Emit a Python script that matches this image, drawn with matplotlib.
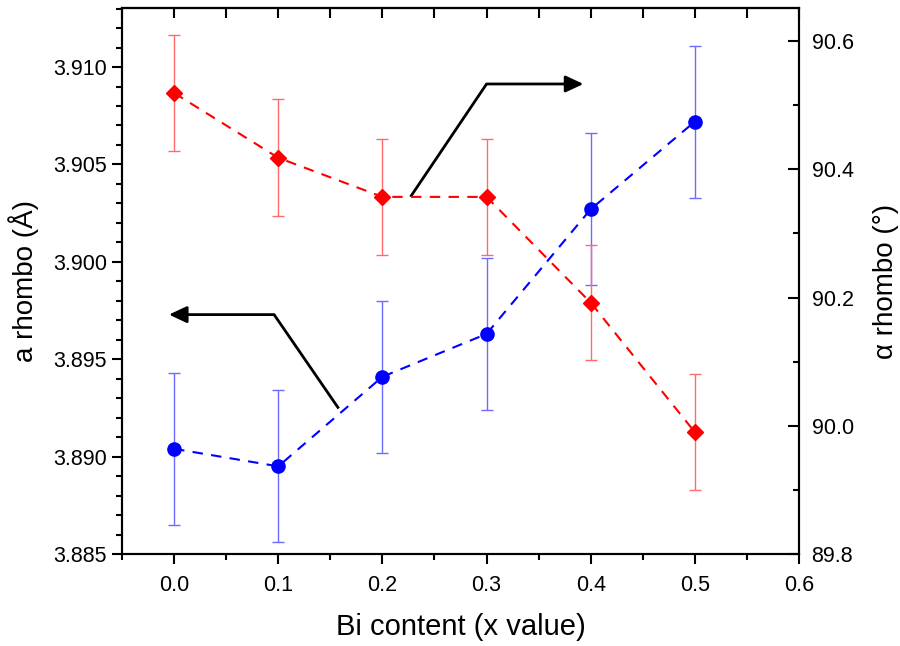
import matplotlib
matplotlib.use("Agg")
import matplotlib.pyplot as plt
from matplotlib.ticker import MultipleLocator, FormatStrFormatter

plt.rcParams['font.family'] = ['Liberation Sans', 'DejaVu Sans']

# data
bi_x = [0.0, 0.1, 0.2, 0.3, 0.4, 0.5]
a_rhombo = [3.8904, 3.8895, 3.8941, 3.8963, 3.9027, 3.9072]
a_err = [0.0039, 0.0039, 0.0039, 0.0039, 0.0039, 0.0039]
alpha_rhombo = [90.519, 90.418, 90.357, 90.357, 90.192, 89.990]
alpha_err = [0.091, 0.091, 0.090, 0.090, 0.090, 0.090]

# arrow paths (x, a rhombo units): start, corner, tip
arrow_right = [(0.227, 3.90334), (0.300, 3.90913), (0.393, 3.90913)]
arrow_left = [(0.158, 3.89247), (0.096, 3.89729), (-0.005, 3.89729)]

fig = plt.figure(figsize=(9, 6.46), dpi=100)
ax = fig.add_axes([0.1356, 0.1424, 0.7522, 0.8452])
ax2 = ax.twinx()

# blue: a rhombo on left axis
ax.errorbar(bi_x, a_rhombo, yerr=a_err, fmt='none', ecolor='#6b6bff',
            elinewidth=1, capsize=4.5, capthick=1, zorder=2)
ax.plot(bi_x, a_rhombo, '--', color='#0000ff', lw=1.5, dashes=(5, 4),
        marker='o', ms=9.5, mfc='#0000ff', mec='#0000ff', zorder=3)

# red: alpha rhombo on right axis
ax2.errorbar(bi_x, alpha_rhombo, yerr=alpha_err, fmt='none', ecolor='#ff6b6b',
             elinewidth=1, capsize=4.5, capthick=1, zorder=2)
ax2.plot(bi_x, alpha_rhombo, '--', color='#ff0000', lw=1.5, dashes=(5, 4),
         marker='D', ms=8, mfc='#ff0000', mec='#ff0000', zorder=3)

ax.set_xlim(-0.05, 0.6)
ax.set_ylim(3.885, 3.91303)
ax2.set_ylim(89.8, 90.6516)

ax.xaxis.set_major_locator(MultipleLocator(0.1))
ax.xaxis.set_minor_locator(MultipleLocator(0.05))
ax.xaxis.set_major_formatter(FormatStrFormatter('%.1f'))
ax.yaxis.set_major_locator(MultipleLocator(0.005))
ax.yaxis.set_minor_locator(MultipleLocator(0.001))
ax.yaxis.set_major_formatter(FormatStrFormatter('%.3f'))
ax2.yaxis.set_major_locator(MultipleLocator(0.2))
ax2.yaxis.set_minor_locator(MultipleLocator(0.1))
ax2.yaxis.set_major_formatter(FormatStrFormatter('%.1f'))

ax.tick_params(axis='x', which='major', direction='out', length=7, width=1.5,
               labelsize=15.5, pad=8)
ax.tick_params(axis='x', which='minor', direction='out', length=4, width=1.5)
ax.tick_params(axis='y', which='major', direction='out', length=7, width=1.5,
               labelsize=15.5, pad=4)
ax.tick_params(axis='y', which='minor', direction='out', length=4, width=1.5)
ax2.tick_params(axis='y', which='major', direction='in', length=8, width=1.5,
                labelsize=15.5, pad=9)
ax2.tick_params(axis='y', which='minor', direction='in', length=4, width=1.5)
ax2.tick_params(axis='x', which='both', top=False)

for a in (ax, ax2):
    for s in a.spines.values():
        s.set_linewidth(1.5)

# top ticks (inward) as a secondary set
top = ax.secondary_xaxis('top')
top.xaxis.set_major_locator(MultipleLocator(0.1))
top.xaxis.set_minor_locator(MultipleLocator(0.05))
top.tick_params(which='major', direction='in', length=7, width=1.5, labeltop=False)
top.tick_params(which='minor', direction='in', length=7, width=1.5)
top.spines['top'].set_linewidth(1.5)

ax.set_xlabel('Bi content (x value)', fontsize=21, labelpad=12)
ax.set_ylabel('a rhombo (Å)', fontsize=20, labelpad=10)
ax2.set_ylabel('α rhombo (°)', fontsize=20, labelpad=14)

for path in (arrow_right, arrow_left):
    xs = [p[0] for p in path[:2]]
    ys = [p[1] for p in path[:2]]
    ax.plot(xs, ys, color='black', lw=2, solid_capstyle='butt', zorder=4)
    ax.annotate('', xy=path[2], xytext=path[1],
                arrowprops=dict(arrowstyle='-|>,head_length=0.6,head_width=0.28',
                                color='black', lw=2, mutation_scale=18,
                                shrinkA=0, shrinkB=0), zorder=4)

ax2.set_zorder(ax.get_zorder() + 1)
ax2.patch.set_visible(False)

fig.savefig('out.png', dpi=100)
